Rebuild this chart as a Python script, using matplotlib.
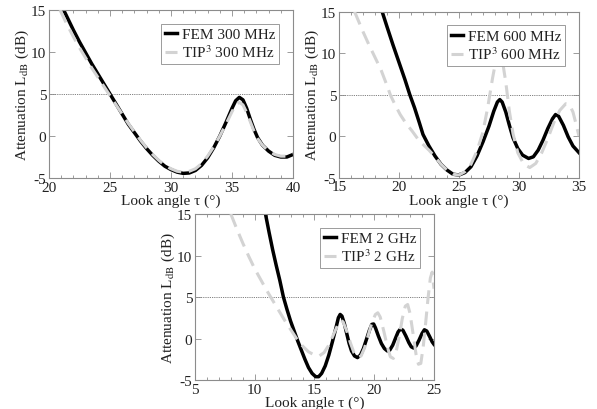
import matplotlib
matplotlib.use("Agg")
import matplotlib.pyplot as plt
from matplotlib.ticker import MultipleLocator

plt.rcParams['font.family'] = ['Liberation Serif', 'DejaVu Serif']
plt.rcParams['mathtext.fontset'] = 'stix'
plt.rcParams['axes.unicode_minus'] = False

# ---- Panel 1: 300 MHz ----
fem300_x = [21.2, 21.6, 22, 22.5, 23, 23.5, 24, 24.5, 25, 25.5, 26, 26.5, 27, 27.5, 28, 28.5, 29, 29.5,
            30, 30.5, 31, 31.5, 32, 32.5, 33, 33.5, 34, 34.5, 35, 35.3, 35.6, 35.9, 36.2, 36.5, 36.8,
            37.1, 37.5, 38, 38.5, 39, 39.5, 40]
fem300_y = [15, 13.8, 12.6, 11.2, 9.9, 8.6, 7.4, 6.2, 5.0, 3.8, 2.6, 1.4, 0.4, -0.6, -1.5, -2.3, -3.0,
            -3.6, -4.0, -4.3, -4.45, -4.4, -4.1, -3.5, -2.6, -1.4, 0.0, 1.6, 3.3, 4.2, 4.6, 4.3, 3.3,
            2.0, 0.8, -0.2, -1.1, -1.8, -2.3, -2.5, -2.5, -2.2]
tip300_x = [20.9, 21.5, 22, 22.5, 23, 23.5, 24, 24.5, 25, 25.5, 26, 26.5, 27, 27.5, 28, 28.5, 29, 29.5,
            30, 30.5, 31, 31.5, 32, 32.5, 33, 33.5, 34, 34.5, 35, 35.3, 35.6, 35.9, 36.2, 36.5, 36.8,
            37.1, 37.5, 38, 38.5, 39, 39.5, 40]
tip300_y = [15, 13.2, 11.8, 10.5, 9.3, 8.1, 7.0, 5.9, 4.8, 3.7, 2.6, 1.5, 0.5, -0.5, -1.4, -2.2, -2.9,
            -3.5, -3.9, -4.2, -4.3, -4.2, -3.9, -3.3, -2.4, -1.3, 0.0, 1.4, 2.9, 3.7, 4.0, 3.7, 2.8,
            1.7, 0.6, -0.3, -1.1, -1.8, -2.2, -2.4, -2.4, -2.1]

# ---- Panel 2: 600 MHz ----
fem600_x = [18.6, 19, 19.5, 20, 20.5, 20.9, 21.3, 21.7, 22, 22.5, 23, 23.5, 24, 24.5, 25, 25.5, 26,
            26.5, 27, 27.5, 27.9, 28.2, 28.4, 28.6, 28.9, 29.2, 29.5, 29.9, 30.3, 30.8, 31.2, 31.6,
            32.0, 32.4, 32.8, 33.05, 33.3, 33.7, 34.1, 34.5, 35]
fem600_y = [15, 13.2, 11.0, 8.9, 6.8, 5.0, 3.4, 1.6, 0.2, -1.2, -2.4, -3.4, -4.1, -4.6, -4.7, -4.4,
            -3.7, -2.4, -0.7, 1.2, 3.0, 4.1, 4.4, 4.1, 2.9, 1.3, -0.2, -1.5, -2.3, -2.7, -2.5, -1.7,
            -0.5, 0.9, 2.1, 2.6, 2.4, 1.3, -0.1, -1.2, -2.0]
tip600_x = [16.3, 17, 17.5, 18, 18.5, 19, 19.3, 19.7, 20.1, 20.6, 21.1, 21.6, 22, 22.5, 23, 23.5, 24,
            24.5, 25, 25.5, 26, 26.5, 27, 27.4, 27.8, 28.1, 28.35, 28.6, 28.9, 29.2, 29.5, 29.9, 30.4,
            30.9, 31.4, 31.9, 32.4, 32.9, 33.4, 33.9, 34.2, 34.5, 34.8, 35.0]
tip600_y = [15, 12.6, 11.0, 9.5, 8.0, 6.1, 4.9, 3.7, 2.6, 1.5, 0.6, -0.4, -1.0, -1.7, -2.5, -3.4, -4.1,
            -4.6, -4.7, -4.3, -3.4, -1.8, 0.5, 3.5, 7.0, 9.3, 10.0, 9.3, 6.5, 3.0, 0.3, -2.0, -3.4,
            -3.8, -3.3, -2.0, -0.3, 1.6, 3.1, 3.9, 3.8, 2.9, 1.2, 0.0]

# ---- Panel 3: 2 GHz ----
fem2g_x = [10.9, 11.2, 11.5, 11.8, 12.1, 12.4, 12.7, 13.0, 13.3, 13.6, 13.9, 14.2, 14.5, 14.8, 15.1,
           15.35, 15.6, 15.9, 16.2, 16.5, 16.8, 17.0, 17.15, 17.3, 17.5, 17.7, 17.9, 18.1, 18.35,
           18.6, 18.85, 19.1, 19.35, 19.6, 19.8, 19.95, 20.1, 20.35, 20.6, 20.85, 21.1, 21.3, 21.55,
           21.8, 22.0, 22.2, 22.4, 22.65, 22.9, 23.1, 23.3, 23.5, 23.75, 24.0, 24.2, 24.4, 24.65,
           24.85, 25.0]
fem2g_y = [15, 12.8, 10.7, 8.8, 7.0, 5.0, 3.5, 2.1, 0.9, -0.3, -1.4, -2.5, -3.5, -4.2, -4.6, -4.6,
           -4.2, -3.3, -2.0, -0.4, 1.3, 2.5, 2.9, 2.7, 1.8, 0.6, -0.6, -1.5, -2.1, -2.3, -2.0, -1.2,
           -0.1, 1.0, 1.7, 1.75, 1.3, 0.3, -0.6, -1.2, -1.5, -1.4, -0.8, 0.1, 0.8, 1.15, 1.0, 0.3,
           -0.5, -1.0, -1.15, -0.9, -0.2, 0.6, 1.05, 0.9, 0.2, -0.4, -0.7]
tip2g_x = [8.0, 8.5, 9.0, 9.5, 10.0, 10.5, 11.0, 11.5, 12.0, 12.5, 13.0, 13.5, 14.0, 14.5, 15.0, 15.4,
           15.8, 16.2, 16.6, 17.0, 17.2, 17.4, 17.7, 18.0, 18.3, 18.6, 18.9, 19.2, 19.5, 19.8, 20.1,
           20.3, 20.5, 20.8, 21.1, 21.35, 21.6, 21.85, 22.1, 22.35, 22.6, 22.8, 23.0, 23.25, 23.5,
           23.7, 23.9, 24.1, 24.3, 24.5, 24.7, 24.85, 25.0]
tip2g_y = [15, 13.2, 11.5, 9.9, 8.4, 7.1, 5.8, 4.6, 3.4, 2.2, 1.1, 0.0, -0.9, -1.6, -2.0, -2.1, -1.7,
           -0.8, 0.5, 1.8, 2.2, 2.0, 0.9, -0.5, -1.7, -2.3, -2.1, -1.1, 0.4, 1.9, 2.9, 3.1, 2.6, 0.9,
           -1.0, -2.2, -2.4, -1.5, 0.3, 2.4, 3.9, 4.1, 3.0, 0.6, -1.9, -3.1, -3.0, -1.0, 1.8, 4.8,
           7.3, 8.0, 6.0]

panels = [
    dict(rect=[0.0821, 0.5634, 0.4087, 0.4098], xlim=(20, 40),
         fem=(fem300_x, fem300_y), tip=(tip300_x, tip300_y), freq="300 MHz"),
    dict(rect=[0.5678, 0.5646, 0.4020, 0.4044], xlim=(15, 35),
         fem=(fem600_x, fem600_y), tip=(tip600_x, tip600_y), freq="600 MHz"),
    dict(rect=[0.3266, 0.0707, 0.4003, 0.4049], xlim=(5, 25),
         fem=(fem2g_x, fem2g_y), tip=(tip2g_x, tip2g_y), freq="2 GHz"),
]

fig = plt.figure(figsize=(5.97, 4.10), dpi=100)
spine_col = '#8c8c8c'
for p in panels:
    ax = fig.add_axes(p['rect'])
    ax.axhline(5, color='#555555', lw=0.6, ls=(0, (1, 1.2)), zorder=1)
    ax.plot(*p['fem'], color='black', lw=2.5, solid_joinstyle='round', zorder=2,
            label='FEM ' + p['freq'])
    ax.plot(*p['tip'], color='#d3d3d3', lw=2.2, ls=(0, (4.5, 2.5)), zorder=3,
            label='TIP$^3$ ' + p['freq'])
    ax.set_xlim(*p['xlim'])
    ax.set_ylim(-5, 15)
    ax.xaxis.set_major_locator(MultipleLocator(5))
    ax.xaxis.set_minor_locator(MultipleLocator(1))
    ax.yaxis.set_major_locator(MultipleLocator(5))
    ax.tick_params(which='both', direction='in', top=True, right=True, colors=spine_col,
                   labelcolor='#222222', labelsize=11, pad=2)
    ax.tick_params(which='major', length=4, width=0.6)
    ax.tick_params(which='minor', length=2.5, width=0.6)
    for s in ax.spines.values():
        s.set_color(spine_col)
        s.set_linewidth(0.8)
    ax.set_xlabel('Look angle τ (°)', fontsize=11, color='#222222', labelpad=0)
    ax.set_ylabel('Attenuation L$_{\\rm dB}$ (dB)', fontsize=11, color='#222222', labelpad=0)
    leg = ax.legend(loc='upper right', fontsize=11, handlelength=0.8, handletextpad=0.3,
                    borderpad=0.25, labelspacing=0.15, fancybox=False, framealpha=1,
                    edgecolor=spine_col, borderaxespad=0.9)
    leg.get_frame().set_linewidth(0.6)
    for t in leg.get_texts():
        t.set_color('#222222')

fig.savefig('out.png', dpi=100)
